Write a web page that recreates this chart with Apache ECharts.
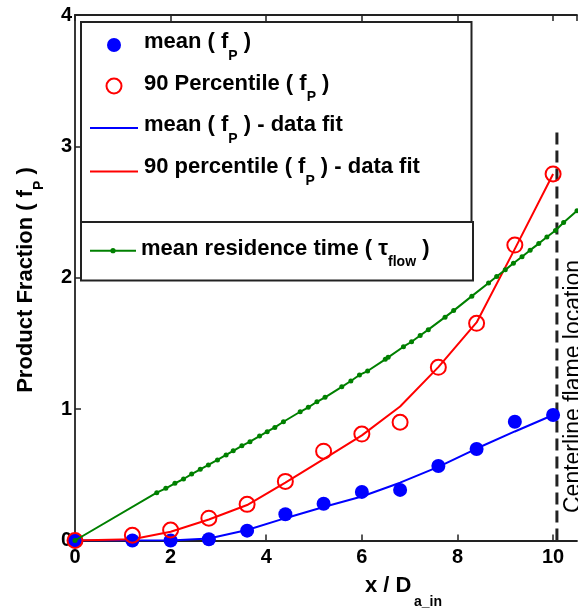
<!DOCTYPE html>
<html>
<head>
<meta charset="utf-8">
<script src="https://cdn.jsdelivr.net/npm/echarts@6/dist/echarts.min.js"></script>
<style>html,body{margin:0;padding:0;background:#fff;}#c{width:578px;height:608px;}</style>
</head>
<body>
<div id="c"></div>
<script>
// ---- data ----
const xPts     = [0, 1.2, 2, 2.8, 3.6, 4.4, 5.2, 6, 6.8, 7.6, 8.4, 9.2, 10];
const meanFP   = [0, 0, 0, 0.01, 0.075, 0.20, 0.28, 0.37, 0.385, 0.567, 0.696, 0.904, 0.955];
const p90FP    = [0, 0.04, 0.08, 0.17, 0.275, 0.45, 0.68, 0.81, 0.90, 1.318, 1.653, 2.249, 2.79];
const meanFit  = [0, 0, 0, 0.015, 0.08, 0.17, 0.255, 0.335, 0.44, 0.56, 0.70, 0.83, 0.955];
const p90Fit   = [0, 0.01, 0.067, 0.16, 0.27, 0.44, 0.62, 0.80, 1.02, 1.32, 1.66, 2.22, 2.79];
const tauX = [0, 1.71, 1.90, 2.09, 2.27, 2.44, 2.62, 2.79, 2.98, 3.16, 3.31, 3.49, 3.66, 3.86, 4.02, 4.18, 4.36,
              4.71, 4.88, 5.06, 5.23, 5.58, 5.77, 5.95, 6.12, 6.49, 6.55, 6.87, 7.04, 7.22, 7.39, 7.74, 7.92,
              8.30, 8.65, 8.82, 9.00, 9.17, 9.35, 9.52, 9.70, 9.87, 10.05, 10.22, 10.50, 10.80];
const tauY = [0, 0.364, 0.397, 0.435, 0.468, 0.506, 0.542, 0.575, 0.613, 0.651, 0.683, 0.721, 0.752, 0.795, 0.828, 0.861, 0.904,
              0.98, 1.014, 1.056, 1.09, 1.17, 1.214, 1.26, 1.29, 1.379, 1.394, 1.475, 1.513, 1.56, 1.605, 1.70, 1.75,
              1.86, 1.96, 2.01, 2.06, 2.11, 2.16, 2.21, 2.26, 2.31, 2.36, 2.42, 2.51, 2.60];
const flameX = [10.08, 10.08];
const flameY = [0, 3.12];
const xTicks = {min: 0, max: 10.5, interval: 2};
const yTicks = {min: 0, max: 4, interval: 1};

const F = 'Liberation Sans, Arial, sans-serif';
const zip = (a, b) => a.map((v, i) => [v, b[i]]);

const rich = {
  m: {fontSize: 22, fontWeight: 'bold', fontFamily: F, color: '#000', lineHeight: 41},
  s: {fontSize: 14, fontWeight: 'bold', fontFamily: F, color: '#000', lineHeight: 14, verticalAlign: 'bottom'}
};
function rtext(x, y, str, extra) {
  return Object.assign({
    type: 'text', x: x, y: y, z: 100,
    style: {text: str, rich: rich, verticalAlign: 'top', align: 'left'}
  }, extra || {});
}

const chart = echarts.init(document.getElementById('c'), null, {renderer: 'canvas'});
const axisLine = {show: true, lineStyle: {color: '#222', width: 1.8}};
chart.setOption({
  animation: false,
  backgroundColor: '#fff',
  grid: {left: 75, right: 1, top: 15, bottom: 67.5, containLabel: false},
  xAxis: [{
    type: 'value', min: xTicks.min, max: xTicks.max, interval: xTicks.interval,
    axisLine: axisLine, splitLine: {show: false},
    axisTick: {inside: true, length: 6, lineStyle: {color: '#222', width: 1.5}},
    axisLabel: {fontSize: 20, fontWeight: 'bold', fontFamily: F, color: '#000', margin: 7, showMaxLabel: false}
  }, {
    type: 'value', position: 'top', min: xTicks.min, max: xTicks.max, interval: xTicks.interval,
    axisLine: axisLine, splitLine: {show: false},
    axisTick: {inside: true, length: 6, lineStyle: {color: '#222', width: 1.5}},
    axisLabel: {show: false}
  }],
  yAxis: [{
    type: 'value', min: yTicks.min, max: yTicks.max, interval: yTicks.interval,
    axisLine: axisLine, splitLine: {show: false},
    axisTick: {inside: true, length: 6, lineStyle: {color: '#222', width: 1.5}},
    axisLabel: {fontSize: 20, fontWeight: 'bold', fontFamily: F, color: '#000', margin: 3}
  }],
  series: [
    {type: 'line', data: zip(flameX, flameY), showSymbol: false, symbol: 'none',
     lineStyle: {color: '#222', width: 3, type: [12, 6]}, z: 1},
    {type: 'line', data: zip(xPts, meanFit), showSymbol: false, symbol: 'none',
     lineStyle: {color: '#0000ff', width: 2}, z: 2},
    {type: 'line', data: zip(xPts, p90Fit), showSymbol: false, symbol: 'none',
     lineStyle: {color: '#ff0000', width: 2}, z: 2},
    {type: 'scatter', data: zip(xPts, meanFP), symbol: 'circle', symbolSize: 14,
     itemStyle: {color: '#0000ff', opacity: 1}, z: 3},
    {type: 'scatter', data: zip(xPts, p90FP), symbol: 'circle', symbolSize: 15,
     itemStyle: {color: 'none', borderColor: '#ff0000', borderWidth: 2, opacity: 1}, z: 4},
    {type: 'line', data: zip(tauX, tauY), symbol: 'circle', symbolSize: 5, showSymbol: true,
     itemStyle: {color: '#008000', borderWidth: 0}, lineStyle: {color: '#008000', width: 2}, z: 5}
  ],
  graphic: [
    // legend boxes
    {type: 'rect', shape: {x: 81, y: 22, width: 390.5, height: 200}, z: 90,
     style: {fill: '#fff', stroke: '#222', lineWidth: 2}},
    {type: 'rect', shape: {x: 81, y: 222, width: 392, height: 58.5}, z: 90,
     style: {fill: '#fff', stroke: '#222', lineWidth: 2}},
    {type: 'circle', shape: {cx: 114, cy: 45, r: 7}, z: 95, style: {fill: '#0000ff'}},
    {type: 'circle', shape: {cx: 114, cy: 86, r: 7.5}, z: 95, style: {fill: 'none', stroke: '#ff0000', lineWidth: 2}},
    {type: 'line', shape: {x1: 90, y1: 128, x2: 138, y2: 128}, z: 95, style: {stroke: '#0000ff', lineWidth: 2}},
    {type: 'line', shape: {x1: 90, y1: 171.5, x2: 138, y2: 171.5}, z: 95, style: {stroke: '#ff0000', lineWidth: 2}},
    {type: 'line', shape: {x1: 90, y1: 250.7, x2: 136, y2: 250.7}, z: 95, style: {stroke: '#008000', lineWidth: 2}},
    {type: 'circle', shape: {cx: 113, cy: 250.7, r: 2.6}, z: 96, style: {fill: '#008000'}},
    rtext(144, 21.9, '{m|mean ( f}{s|P}{m| )}'),
    rtext(144, 63.6, '{m|90 Percentile ( f}{s|P}{m| )}'),
    rtext(144, 104.9, '{m|mean ( f}{s|P}{m| ) - data fit}'),
    rtext(144, 146.9, '{m|90 percentile ( f}{s|P}{m| ) - data fit}'),
    rtext(141, 228.6, '{m|mean residence time ( τ}{s|flow}{m| )}'),
    // x-axis title: main part and its subscript
    {type: 'text', x: 365, y: 597, z: 100,
     style: {text: 'x / D', fontSize: 22, fontWeight: 'bold', fontFamily: F, fill: '#000',
             align: 'left', verticalAlign: 'bottom'}},
    {type: 'text', x: 414, y: 609, z: 100,
     style: {text: 'a_in', fontSize: 14, fontWeight: 'bold', fontFamily: F, fill: '#000',
             align: 'left', verticalAlign: 'bottom'}},
    // y-axis title
    rtext(5, 280, '', {rotation: Math.PI / 2,
      style: {text: '{m|Product Fraction ( f}{s|P}{m| )}', rich: rich, verticalAlign: 'top', align: 'center'}}),
    // annotation of the dashed line
    {type: 'text', x: 574, y: 513, rotation: Math.PI / 2, z: 100,
     style: {text: 'Centerline flame location', fontSize: 23, fontFamily: F, fill: '#000',
             align: 'left', verticalAlign: 'middle'}}
  ]
});
</script>
</body>
</html>
